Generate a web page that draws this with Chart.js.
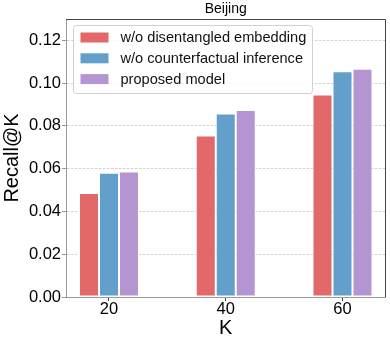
<!DOCTYPE html>
<html><head><meta charset="utf-8">
<script src="https://cdn.jsdelivr.net/npm/chart.js@4/dist/chart.umd.min.js"></script>
<style>html,body{margin:0;padding:0;background:#fff}canvas{display:block}</style>
</head><body>
<canvas id="c" width="390" height="344"></canvas>
<script>
const categories = ['20', '40', '60'];
const seriesNames = ['w/o disentangled embedding', 'w/o counterfactual inference', 'proposed model'];
const noDisentangled = [0.0486, 0.0755, 0.0947];
const noCounterfactual = [0.0581, 0.0858, 0.1056];
const proposed = [0.0587, 0.0875, 0.1067];
const yTickValues = [0, 0.02, 0.04, 0.06, 0.08, 0.10, 0.12];

const FONT = "'Liberation Sans', Arial, Helvetica, sans-serif";
Chart.defaults.font.family = FONT;
Chart.defaults.color = '#000';

const colors = ['rgb(226,104,105)', 'rgb(98,160,203)', 'rgb(180,149,209)'];
const seriesValues = [noDisentangled, noCounterfactual, proposed];

const datasets = seriesValues.map((vals, i) => ({
  label: seriesNames[i],
  data: vals.map((v, j) => ({x: j, y: v})),
  backgroundColor: colors[i],
  borderColor: '#ffffff',
  borderWidth: 1,
  borderSkipped: false,
  barThickness: 20,
  inflateAmount: 0
}));

const framePlugin = {
  id: 'frame',
  afterDraw(chart) {
    const ctx = chart.ctx, a = chart.chartArea;
    ctx.save();
    ctx.strokeStyle = '#454545';
    ctx.lineWidth = 1;
    const t = Math.floor(a.top) + 0.5, r = Math.floor(a.right) + 0.5;
    ctx.beginPath();
    ctx.moveTo(a.left, t); ctx.lineTo(r, t); ctx.lineTo(r, a.bottom);
    ctx.stroke();
    // legend
    const x0 = a.left + 7.5, y0 = a.top + 6.5, w = 239, h = 68, rad = 3;
    ctx.beginPath();
    ctx.moveTo(x0 + rad, y0);
    ctx.lineTo(x0 + w - rad, y0); ctx.arcTo(x0 + w, y0, x0 + w, y0 + rad, rad);
    ctx.lineTo(x0 + w, y0 + h - rad); ctx.arcTo(x0 + w, y0 + h, x0 + w - rad, y0 + h, rad);
    ctx.lineTo(x0 + rad, y0 + h); ctx.arcTo(x0, y0 + h, x0, y0 + h - rad, rad);
    ctx.lineTo(x0, y0 + rad); ctx.arcTo(x0, y0, x0 + rad, y0, rad);
    ctx.closePath();
    ctx.fillStyle = 'rgba(255,255,255,0.8)';
    ctx.fill();
    ctx.strokeStyle = '#d0d0d0';
    ctx.stroke();
    ctx.font = '14.6px ' + FONT;
    ctx.textBaseline = 'middle';
    ctx.textAlign = 'left';
    chart.data.datasets.forEach((ds, i) => {
      const cy = y0 + 12 + i * 20.8;
      ctx.fillStyle = ds.backgroundColor;
      ctx.fillRect(x0 + 7, cy - 5, 28, 10);
      ctx.fillStyle = '#111';
      ctx.fillText(ds.label, x0 + 47, cy + 0.5);
    });
    ctx.restore();
  }
};

new Chart(document.getElementById('c'), {
  type: 'bar',
  data: { datasets },
  plugins: [framePlugin],
  options: {
    responsive: false,
    animation: false,
    devicePixelRatio: 1,
    layout: { padding: { left: 0, right: 4.5, top: 0, bottom: 0 } },
    plugins: {
      legend: { display: false },
      tooltip: { enabled: false },
      title: {
        display: true, text: 'Beijing', fullSize: false,
        font: { size: 14, weight: 'normal' }, color: '#000',
        padding: { top: 1, bottom: 1.2 }
      }
    },
    scales: {
      x: {
        type: 'linear',
        offset: false,
        min: -0.3683, max: 2.3683,
        afterBuildTicks(axis) { axis.ticks = categories.map((c, i) => ({value: i})); },
        afterFit(scale) { scale.height = 47; },
        ticks: {
          callback: (v) => categories[v] ?? '',
          font: { size: 16.5 }, color: '#000', padding: -1, maxRotation: 0
        },
        grid: { offset: false, drawOnChartArea: false, drawTicks: true, tickLength: 4, tickColor: '#444', tickWidth: 1 },
        border: { display: true, color: '#999999', width: 1 },
        title: { display: true, text: 'K', font: { size: 20 }, color: '#000', padding: { top: 0, bottom: 4 } }
      },
      y: {
        min: 0, max: 0.13,
        afterBuildTicks(axis) { axis.ticks = yTickValues.map(v => ({value: v})); },
        afterFit(scale) { scale.width = 66; },
        ticks: {
          callback: (v) => Number(v).toFixed(2),
          font: { size: 16.5 }, color: '#000', padding: 1
        },
        grid: {
          color: '#d0d0d0', lineWidth: 1,
          drawTicks: true, tickLength: 4, tickColor: '#999', tickBorderDash: [], tickWidth: 1
        },
        border: { display: true, color: '#999999', width: 1, dash: [2.5, 1.5] },
        title: { display: true, text: 'Recall@K', font: { size: 20 }, color: '#000', padding: { top: 0, bottom: 0 } }
      }
    }
  }
});
</script>
</body></html>
